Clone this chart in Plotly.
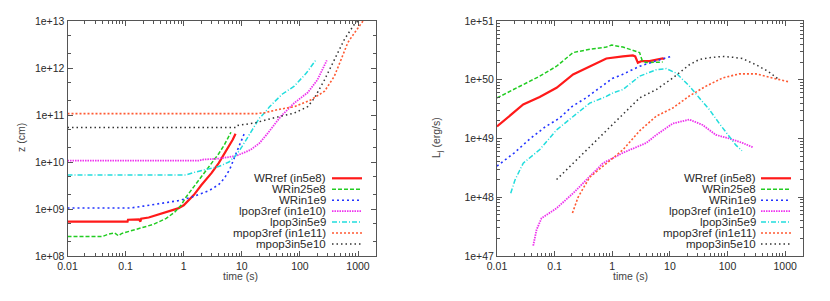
import plotly.graph_objects as go

# ---------------- data ----------------
names = ["WRref (in5e8)", "WRin25e8", "WRin1e9", "lpop3ref (in1e10)",
         "lpop3in5e9", "mpop3ref (in1e11)", "mpop3in5e10"]

# left panel: jet head position z (cm) vs time (s)
z_WRref_t = [0.01, 0.108, 0.11, 0.17, 0.18, 0.185, 0.25, 0.4, 0.6, 0.8, 1.0, 1.5, 2.0, 3.0, 4.0, 5.0, 6.0, 7.0, 7.8]
z_WRref_v = [5.4e8, 5.4e8, 5.9e8, 6.0e8, 5.4e8, 6.2e8, 6.6e8, 7.8e8, 9.0e8, 1.03e9, 1.2e9, 2.0e9, 3.2e9, 5.8e9, 9.5e9, 1.5e10, 2.1e10, 3.0e10, 4.0e10]
z_WRin25e8_t = [0.01, 0.04, 0.05, 0.065, 0.075, 0.085, 0.12, 0.2, 0.3, 0.5, 0.7, 0.9, 1.1, 1.5, 2.0, 3.0, 4.0, 5.0, 6.5]
z_WRin25e8_v = [2.6e8, 2.6e8, 2.9e8, 3.1e8, 2.7e8, 3.0e8, 3.4e8, 4.0e8, 4.7e8, 6.3e8, 8.6e8, 1.2e9, 1.8e9, 3.0e9, 4.8e9, 9.5e9, 1.5e10, 2.3e10, 4.3e10]
z_WRin1e9_t = [0.01, 0.12, 0.2, 0.4, 0.8, 1.4, 2.0, 2.8, 4.0, 5.0, 6.2, 7.5, 9.0, 10.0, 11.2]
z_WRin1e9_v = [1.05e9, 1.05e9, 1.15e9, 1.3e9, 1.5e9, 1.8e9, 2.1e9, 2.5e9, 3.3e9, 4.5e9, 7e9, 1.2e10, 2.2e10, 3.0e10, 4.2e10]
z_lpop3ref_t = [0.01, 1.8, 2.2, 4.0, 8.0, 10.0, 14.0, 20.0, 28.0, 47.0, 80.0, 136.0, 200.0, 290.0]
z_lpop3ref_v = [1.07e10, 1.07e10, 1.13e10, 1.18e10, 1.35e10, 1.5e10, 1.8e10, 2.5e10, 4.1e10, 9.4e10, 1.8e11, 3e11, 5.6e11, 1.45e12]
z_lpop3in5e9_t = [0.01, 1.1, 1.5, 2.4, 4.0, 6.0, 8.0, 10.0, 13.6, 20.0, 24.0, 30.0, 50.0, 80.0, 130.0, 190.0]
z_lpop3in5e9_v = [5.3e9, 5.3e9, 6.0e9, 6.8e9, 8e9, 1e10, 1.4e10, 2.1e10, 4e10, 8.5e10, 1.07e11, 1.5e11, 2.8e11, 4.1e11, 7.9e11, 1.5e12]
z_mpop3ref_t = [0.01, 18.0, 25.0, 41.0, 80.0, 155.0, 265.0, 390.0, 510.0, 670.0, 870.0, 1220.0]
z_mpop3ref_v = [1.07e11, 1.07e11, 1.12e11, 1.3e11, 1.5e11, 2.1e11, 3.2e11, 6.6e11, 1.5e12, 3.5e12, 5.6e12, 1e13]
z_mpop3in5e10_t = [0.01, 7.9, 8.5, 16.0, 36.0, 80.0, 136.0, 178.0, 265.0, 390.0, 585.0, 870.0, 1000.0]
z_mpop3in5e10_v = [5.4e10, 5.4e10, 6.0e10, 6.7e10, 8.7e10, 1.1e11, 1.5e11, 2.3e11, 5.6e11, 1.5e12, 4.1e12, 8.6e12, 1.0e13]

# right panel: jet luminosity L_j (erg/s) vs time (s)
L_WRref_t = [0.01, 0.0168, 0.0285, 0.055, 0.108, 0.209, 0.406, 0.79, 1.53, 2.28, 2.5, 2.78, 3.19, 4.43, 7.5, 8.1]
L_WRref_v = [1.6e49, 2.5e49, 3.8e49, 5.1e49, 7.3e49, 1.23e50, 1.7e50, 2.3e50, 2.5e50, 2.6e50, 2.5e50, 1.95e50, 2.07e50, 2.07e50, 2.3e50, 2.25e50]
L_WRin25e8_t = [0.01, 0.0219, 0.055, 0.108, 0.209, 0.406, 0.79, 0.97, 1.53, 2.98, 3.32, 3.89, 6.6, 7.5]
L_WRin25e8_v = [4.9e49, 7.3e49, 1.15e50, 1.7e50, 2.9e50, 3.3e50, 3.6e50, 3.9e50, 3.6e50, 2.9e50, 2.1e50, 1.96e50, 1.96e50, 2.0e50]
L_WRin1e9_t = [0.01, 0.02, 0.037, 0.07, 0.12, 0.2, 0.35, 0.6, 1.0, 1.5, 3.0, 5.8, 10.5]
L_WRin1e9_v = [3.4e48, 5.7e48, 9.8e48, 1.6e49, 2.2e49, 3.5e49, 4.9e49, 7.2e49, 1.05e50, 1.23e50, 1.7e50, 2.1e50, 2.5e50]
L_lpop3ref_t = [0.0425, 0.0486, 0.0593, 0.108, 0.209, 0.406, 0.69, 1.53, 3.89, 5.8, 11.2, 21.8, 37.0, 63.0, 107.0, 182.0, 283.0]
L_lpop3ref_v = [1.5e47, 2.8e47, 4.4e47, 6.5e47, 1.17e48, 2.3e48, 3.8e48, 5.7e48, 8.4e48, 1.15e49, 1.8e49, 2.1e49, 1.7e49, 1.15e49, 1.0e49, 8.4e48, 7.0e48]
L_lpop3in5e9_t = [0.0173, 0.0205, 0.0285, 0.0554, 0.108, 0.209, 0.406, 0.79, 1.03, 1.53, 2.98, 5.8, 8.6, 12.8, 21.8, 32.5, 48.4, 72.0, 107.0, 140.0, 178.0]
L_lpop3in5e9_v = [1.17e48, 1.96e48, 3.8e48, 6.5e48, 1.4e49, 2.4e49, 4.0e49, 5.2e49, 6.0e49, 6.8e49, 1.15e50, 1.48e50, 1.55e50, 1.3e50, 7.8e49, 4.9e49, 3.1e49, 1.8e49, 1.07e49, 7.7e48, 6.2e48]
L_mpop3ref_t = [0.204, 0.255, 0.406, 0.79, 1.53, 2.98, 5.8, 11.2, 21.8, 42.5, 82.0, 160.0, 311.0, 603.0, 1170.0]
L_mpop3ref_v = [5.4e47, 1.0e48, 2.2e48, 3.8e48, 6.4e48, 1.35e49, 2.4e49, 3.3e49, 5.3e49, 7.8e49, 1.07e50, 1.26e50, 1.26e50, 1.07e50, 9.2e49]
L_mpop3in5e10_t = [0.108, 0.209, 0.406, 0.74, 2.98, 5.8, 11.2, 21.8, 32.0, 45.0, 82.0, 130.0, 180.0, 311.0, 500.0, 790.0]
L_mpop3in5e10_v = [2.0e48, 3.8e48, 7.2e48, 1.3e49, 4.9e49, 6.8e49, 1.07e50, 1.8e50, 2.2e50, 2.35e50, 2.5e50, 2.4e50, 2.3e50, 1.8e50, 1.4e50, 1.0e50]

x_tickvals = [0.01, 0.1, 1, 10, 100, 1000]
x_ticktext = ["0.01", "0.1", "1", "10", "100", "1000"]
zl_tickvals = [1e8, 1e9, 1e10, 1e11, 1e12, 1e13]
zl_ticktext = ["1e+08", "1e+09", "1e+10", "1e+11", "1e+12", "1e+13"]
L_tickvals = [1e47, 1e48, 1e49, 1e50, 1e51]
L_ticktext = ["1e+47", "1e+48", "1e+49", "1e+50", "1e+51"]

z_series = [(z_WRref_t, z_WRref_v), (z_WRin25e8_t, z_WRin25e8_v), (z_WRin1e9_t, z_WRin1e9_v),
            (z_lpop3ref_t, z_lpop3ref_v), (z_lpop3in5e9_t, z_lpop3in5e9_v),
            (z_mpop3ref_t, z_mpop3ref_v), (z_mpop3in5e10_t, z_mpop3in5e10_v)]
L_series = [(L_WRref_t, L_WRref_v), (L_WRin25e8_t, L_WRin25e8_v), (L_WRin1e9_t, L_WRin1e9_v),
            (L_lpop3ref_t, L_lpop3ref_v), (L_lpop3in5e9_t, L_lpop3in5e9_v),
            (L_mpop3ref_t, L_mpop3ref_v), (L_mpop3in5e10_t, L_mpop3in5e10_v)]

# ---------------- styles ----------------
colors = ["#ff1a1a", "#22cc22", "#2233ff", "#ee33ee", "#22dddd", "#ff5a33", "#333333"]
dashes = ["solid", "4px,2px", "2px,3px", "1.5px,1px", "5px,2px,1px,2px", "2px,2px", "1.5px,3px"]
widths = [2.2, 1.5, 1.6, 1.8, 1.5, 1.6, 1.5]

# the page body has an 8px default margin: the figure is drawn 8px in from the window corner
OFF = 8
W, H = 830 - OFF, 301 - OFF
FONT = "Liberation Sans, Arial, Helvetica, sans-serif"
TXT = "#2a2a2a"

def px(x):
    # x given in window pixels
    return (x - OFF) / W

def py(y):
    # y given in window pixels (from top)
    return 1 - (y - OFF) / H

fig = go.Figure()

for i, (t, v) in enumerate(z_series):
    fig.add_trace(go.Scatter(x=t, y=v, mode="lines", xaxis="x", yaxis="y", showlegend=False,
                             line=dict(color=colors[i], width=widths[i], dash=dashes[i])))
for i, (t, v) in enumerate(L_series):
    fig.add_trace(go.Scatter(x=t, y=v, mode="lines", xaxis="x2", yaxis="y2", showlegend=False,
                             line=dict(color=colors[i], width=widths[i], dash=dashes[i])))

axis_common = dict(type="log", showgrid=False, zeroline=False, showline=True, linecolor="#555",
                   linewidth=1, mirror="allticks", ticks="inside", ticklen=5, tickcolor="#555",
                   automargin=False,
                   tickfont=dict(family=FONT, size=10.5, color=TXT))

ydom = [py(256), py(21)]
fig.update_layout(
    template="none",
    width=W, height=H, margin=dict(l=0, r=0, t=0, b=0, autoexpand=False),
    paper_bgcolor="white", plot_bgcolor="white", showlegend=False,
    xaxis=dict(axis_common, domain=[px(67.5), px(375.5)], range=[-2, 3.301], anchor="y",
               tickmode="array", tickvals=x_tickvals, ticktext=x_ticktext,
               minor=dict(ticks="inside", ticklen=3, tickcolor="#555", dtick="D1")),
    yaxis=dict(axis_common, domain=ydom, range=[8, 13], anchor="x",
               tickmode="array", tickvals=zl_tickvals, ticktext=zl_ticktext,
               minor=dict(ticks="inside", ticklen=3, tickcolor="#555", dtick="D2")),
    xaxis2=dict(axis_common, domain=[px(497), px(802.5)], range=[-2, 3.301], anchor="y2",
                tickmode="array", tickvals=x_tickvals, ticktext=x_ticktext,
                minor=dict(ticks="inside", ticklen=3, tickcolor="#555", dtick="D1")),
    yaxis2=dict(axis_common, domain=ydom, range=[47, 51], anchor="x2",
                tickmode="array", tickvals=L_tickvals, ticktext=L_ticktext,
                minor=dict(ticks="inside", ticklen=3, tickcolor="#555", dtick="D1")),
)

ann = []
# axis titles
ann.append(dict(text="time (s)", x=px(221), y=py(284), xref="paper", yref="paper", showarrow=False,
                font=dict(family=FONT, size=10.5, color="#444")))
ann.append(dict(text="time (s)", x=px(650), y=py(284), xref="paper", yref="paper", showarrow=False,
                font=dict(family=FONT, size=10.5, color="#444")))
ann.append(dict(text="z (cm)", x=px(13), y=py(138), xref="paper", yref="paper", showarrow=False,
                textangle=-90, font=dict(family=FONT, size=10.5, color="#444")))
ann.append(dict(text="L<sub>j</sub> (erg/s)", x=px(437), y=py(138), xref="paper", yref="paper",
                showarrow=False, textangle=-90, font=dict(family=FONT, size=10.5, color="#444")))

# gnuplot-style keys: text right-aligned, sample line to its right
shapes = []
KEY_TOP, KEY_STEP = 178.3, 10.95
for (txt_right, s0, s1) in [(327, 332, 362), (757, 761, 791)]:
    for i, name in enumerate(names):
        ry = KEY_TOP + i * KEY_STEP
        ann.append(dict(text=name, x=px(txt_right), y=py(ry), xref="paper", yref="paper",
                        xanchor="right", yanchor="middle", showarrow=False, borderpad=0,
                        font=dict(family=FONT, size=11.5, color=TXT)))
        shapes.append(dict(type="line", xref="paper", yref="paper", x0=px(s0), x1=px(s1),
                           y0=py(ry), y1=py(ry),
                           line=dict(color=colors[i], width=widths[i], dash=dashes[i])))

fig.update_layout(annotations=ann, shapes=shapes)
fig.write_html("out.html")
